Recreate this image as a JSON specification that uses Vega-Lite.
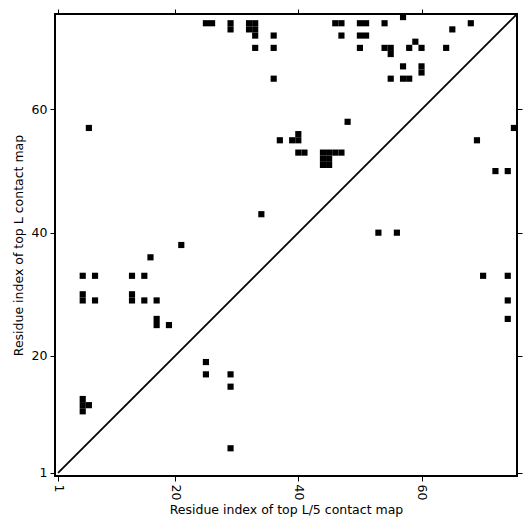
{
  "$schema": "https://vega.github.io/schema/vega-lite/v6.json",
  "width": 462,
  "height": 462,
  "autosize": {"type": "none"},
  "padding": {"left": 55, "top": 14, "right": 14, "bottom": 55},
  "background": "white",
  "config": {
    "view": {"stroke": "black", "strokeWidth": 2},
    "font": "DejaVu Sans",
    "axis": {"grid": false, "domain": false, "tickColor": "black", "tickSize": 5, "tickWidth": 1, "labelColor": "black", "labelFontSize": 12.5, "titleFontSize": 12.5, "titleFontWeight": "normal", "titleColor": "black", "labelFont": "DejaVu Sans", "titleFont": "DejaVu Sans"}
  },
  "datasets": {
    "contacts": [
      {"i":25,"j":74},{"i":26,"j":74},{"i":29,"j":74},{"i":29,"j":73},{"i":32,"j":74},{"i":33,"j":74},{"i":32,"j":73},{"i":33,"j":73},{"i":33,"j":72},{"i":36,"j":72},{"i":33,"j":70},{"i":36,"j":70},{"i":36,"j":65},
      {"i":57,"j":75},{"i":46,"j":74},{"i":47,"j":74},{"i":50,"j":74},{"i":51,"j":74},{"i":54,"j":74},{"i":68,"j":74},{"i":65,"j":73},{"i":47,"j":72},{"i":50,"j":72},{"i":51,"j":72},{"i":59,"j":71},{"i":50,"j":70},{"i":54,"j":70},{"i":55,"j":70},{"i":55,"j":69},{"i":58,"j":70},{"i":60,"j":70},{"i":64,"j":70},{"i":57,"j":67},{"i":60,"j":67},{"i":60,"j":66},{"i":55,"j":65},{"i":57,"j":65},{"i":58,"j":65},
      {"i":48,"j":58},{"i":37,"j":55},{"i":39,"j":55},{"i":40,"j":55},{"i":40,"j":56},{"i":40,"j":53},{"i":41,"j":53},{"i":44,"j":53},{"i":45,"j":53},{"i":46,"j":53},{"i":47,"j":53},{"i":44,"j":52},{"i":45,"j":52},{"i":44,"j":51},{"i":45,"j":51},
      {"i":34,"j":43},{"i":53,"j":40},{"i":56,"j":40},{"i":75,"j":57},{"i":69,"j":55},{"i":72,"j":50},{"i":74,"j":50},{"i":70,"j":33},{"i":74,"j":33},{"i":74,"j":29},{"i":74,"j":26},
      {"i":6,"j":57},{"i":16,"j":36},{"i":21,"j":38},{"i":5,"j":33},{"i":7,"j":33},{"i":13,"j":33},{"i":15,"j":33},{"i":5,"j":30},{"i":5,"j":29},{"i":7,"j":29},{"i":13,"j":30},{"i":13,"j":29},{"i":15,"j":29},{"i":17,"j":29},{"i":17,"j":26},{"i":17,"j":25},{"i":19,"j":25},
      {"i":5,"j":13},{"i":5,"j":12},{"i":5,"j":11},{"i":6,"j":12},{"i":25,"j":19},{"i":25,"j":17},{"i":29,"j":17},{"i":29,"j":15},{"i":29,"j":5}
    ],
    "diag": [{"i":1,"j":1},{"i":76,"j":76}]
  },
  "layer": [
    {
      "data": {"name": "contacts"},
      "mark": {"type": "point", "shape": "square", "filled": true, "size": 38, "color": "black", "opacity": 1, "strokeWidth": 0},
      "encoding": {
        "x": {"field": "i", "type": "quantitative", "scale": {"domain": [0.5, 75.5], "nice": false, "zero": false},
              "axis": {"orient": "bottom", "values": [1, 20, 40, 60], "labelAngle": 90, "labelAlign": "left", "labelBaseline": "middle", "labelPadding": 3, "title": "Residue index of top L/5 contact map", "titlePadding": 4}},
        "y": {"field": "j", "type": "quantitative", "scale": {"domain": [0.5, 75.5], "nice": false, "zero": false},
              "axis": {"orient": "left", "values": [1, 20, 40, 60], "labelPadding": 3, "title": "Residue index of top L contact map", "titlePadding": 6}}
      }
    },
    {
      "data": {"name": "diag"},
      "mark": {"type": "line", "color": "black", "strokeWidth": 1.8, "clip": true},
      "encoding": {
        "x": {"field": "i", "type": "quantitative", "scale": {"domain": [0.5, 75.5], "nice": false, "zero": false},
              "axis": {"orient": "top", "values": [1, 20, 40, 60], "labels": false, "title": null}},
        "y": {"field": "j", "type": "quantitative", "scale": {"domain": [0.5, 75.5], "nice": false, "zero": false},
              "axis": {"orient": "right", "values": [1, 20, 40, 60], "labels": false, "title": null}}
      }
    }
  ],
  "resolve": {"axis": {"x": "independent", "y": "independent"}}
}
